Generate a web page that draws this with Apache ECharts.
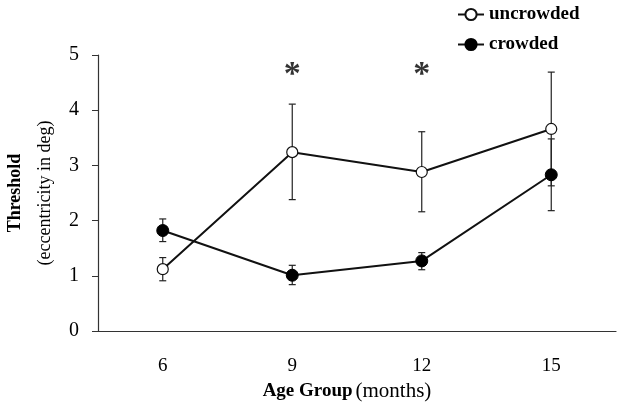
<!DOCTYPE html>
<html><head><meta charset="utf-8">
<script src="https://cdn.jsdelivr.net/npm/echarts@6/dist/echarts.min.js"></script>
<style>html,body{margin:0;padding:0;background:#fff}#c{width:624px;height:408px}</style>
</head><body><div id="c"></div>
<script>
var categories = ['6', '9', '12', '15'];
var uncrowded = [1.12, 3.24, 2.88, 3.66];
var uncrowdedLow = [0.91, 2.38, 2.16, 2.63];
var uncrowdedHigh = [1.33, 4.11, 3.61, 4.69];
var crowded = [1.82, 1.01, 1.27, 2.83];
var crowdedLow = [1.62, 0.84, 1.11, 2.18];
var crowdedHigh = [2.03, 1.19, 1.42, 3.48];
var yTicks = [0, 1, 2, 3, 4, 5];
var starCats = ['9', '12'];
var starY = 4.72;

var font = 'Liberation Serif';
function errData(lo, hi) { return categories.map(function (c, i) { return [i, lo[i], hi[i]]; }); }
function renderErr(params, api) {
  var x = api.value(0);
  var p1 = api.coord([x, api.value(1)]);
  var p2 = api.coord([x, api.value(2)]);
  var w = 3.5;
  var st = { stroke: '#222', lineWidth: 1.2 };
  return { type: 'group', children: [
    { type: 'line', shape: { x1: p1[0], y1: p1[1], x2: p2[0], y2: p2[1] }, style: st },
    { type: 'line', shape: { x1: p1[0] - w, y1: p1[1], x2: p1[0] + w, y2: p1[1] }, style: st },
    { type: 'line', shape: { x1: p2[0] - w, y1: p2[1], x2: p2[0] + w, y2: p2[1] }, style: st }
  ]};
}
var chart = echarts.init(document.getElementById('c'));
chart.setOption({
  animation: false,
  textStyle: { fontFamily: font, color: '#000' },
  legend: {
    orient: 'vertical', left: 452, top: 0, itemGap: 11, itemWidth: 26, itemHeight: 14,
    textStyle: { fontFamily: font, fontWeight: 'bold', fontSize: 19, color: '#000' },
    data: ['uncrowded', 'crowded']
  },
  grid: { left: 98, top: 55, right: 8, bottom: 77, containLabel: false, outerBoundsMode: 'none' },
  xAxis: [{
    type: 'category', data: categories,
    axisLine: { lineStyle: { color: '#333', width: 1.2 } },
    axisTick: { alignWithLabel: true, inside: true, length: 5, lineStyle: { color: '#333' } },
    axisLabel: { fontFamily: font, fontSize: 19, color: '#000', margin: 26 },
    name: '{b|Age Group} {n|(months)}', nameLocation: 'middle', nameGap: 50,
    nameTextStyle: { padding: [0, 20, 0, 0], rich: {
      b: { fontFamily: font, fontSize: 19, fontWeight: 'bold', color: '#000' },
      n: { fontFamily: font, fontSize: 21, color: '#000' } } }
  }, {
    type: 'category', data: categories, position: 'bottom', offset: 0,
    axisLine: { show: false },
    axisTick: { alignWithLabel: true, inside: false, length: 5, lineStyle: { color: '#333' } },
    axisLabel: { show: false }
  }],
  yAxis: {
    type: 'value', min: yTicks[0], max: yTicks[yTicks.length - 1], interval: 1,
    splitLine: { show: false },
    axisLine: { show: true, lineStyle: { color: '#333', width: 1.2 } },
    axisTick: { show: true, length: 6, lineStyle: { color: '#333' } },
    axisLabel: { fontFamily: font, fontSize: 20, color: '#000', margin: 19 },
    name: '{b|Threshold}\n{n|(eccentricity in deg)}', nameLocation: 'middle', nameGap: 38, nameRotate: 90,
    nameTextStyle: { align: 'center', rich: {
      b: { fontFamily: font, fontSize: 18, fontWeight: 'bold', color: '#000', lineHeight: 30, align: 'center' },
      n: { fontFamily: font, fontSize: 18, color: '#000', lineHeight: 30, align: 'center' } } }
  },
  series: [
    { type: 'custom', renderItem: renderErr, data: errData(uncrowdedLow, uncrowdedHigh), encode: { x: 0, y: [1, 2] }, z: 1, silent: true },
    { type: 'custom', renderItem: renderErr, data: errData(crowdedLow, crowdedHigh), encode: { x: 0, y: [1, 2] }, z: 1, silent: true },
    { name: 'uncrowded', type: 'line', data: uncrowded, symbol: 'circle', symbolSize: 11, z: 3,
      lineStyle: { color: '#111', width: 2 }, itemStyle: { color: '#fff', borderColor: '#111', borderWidth: 1.2 } },
    { name: 'crowded', type: 'line', data: crowded, symbol: 'circle', symbolSize: 12, z: 3,
      lineStyle: { color: '#111', width: 2 }, itemStyle: { color: '#000', borderColor: '#000', borderWidth: 1 } },
    { type: 'scatter', symbolSize: 0, silent: true,
      data: starCats.map(function (c) { return [c, starY]; }),
      label: { show: true, position: 'inside', formatter: '*', fontFamily: font, fontSize: 34, fontWeight: 'bold', color: '#000', offset: [0, 5] } }
  ]
});
</script></body></html>
